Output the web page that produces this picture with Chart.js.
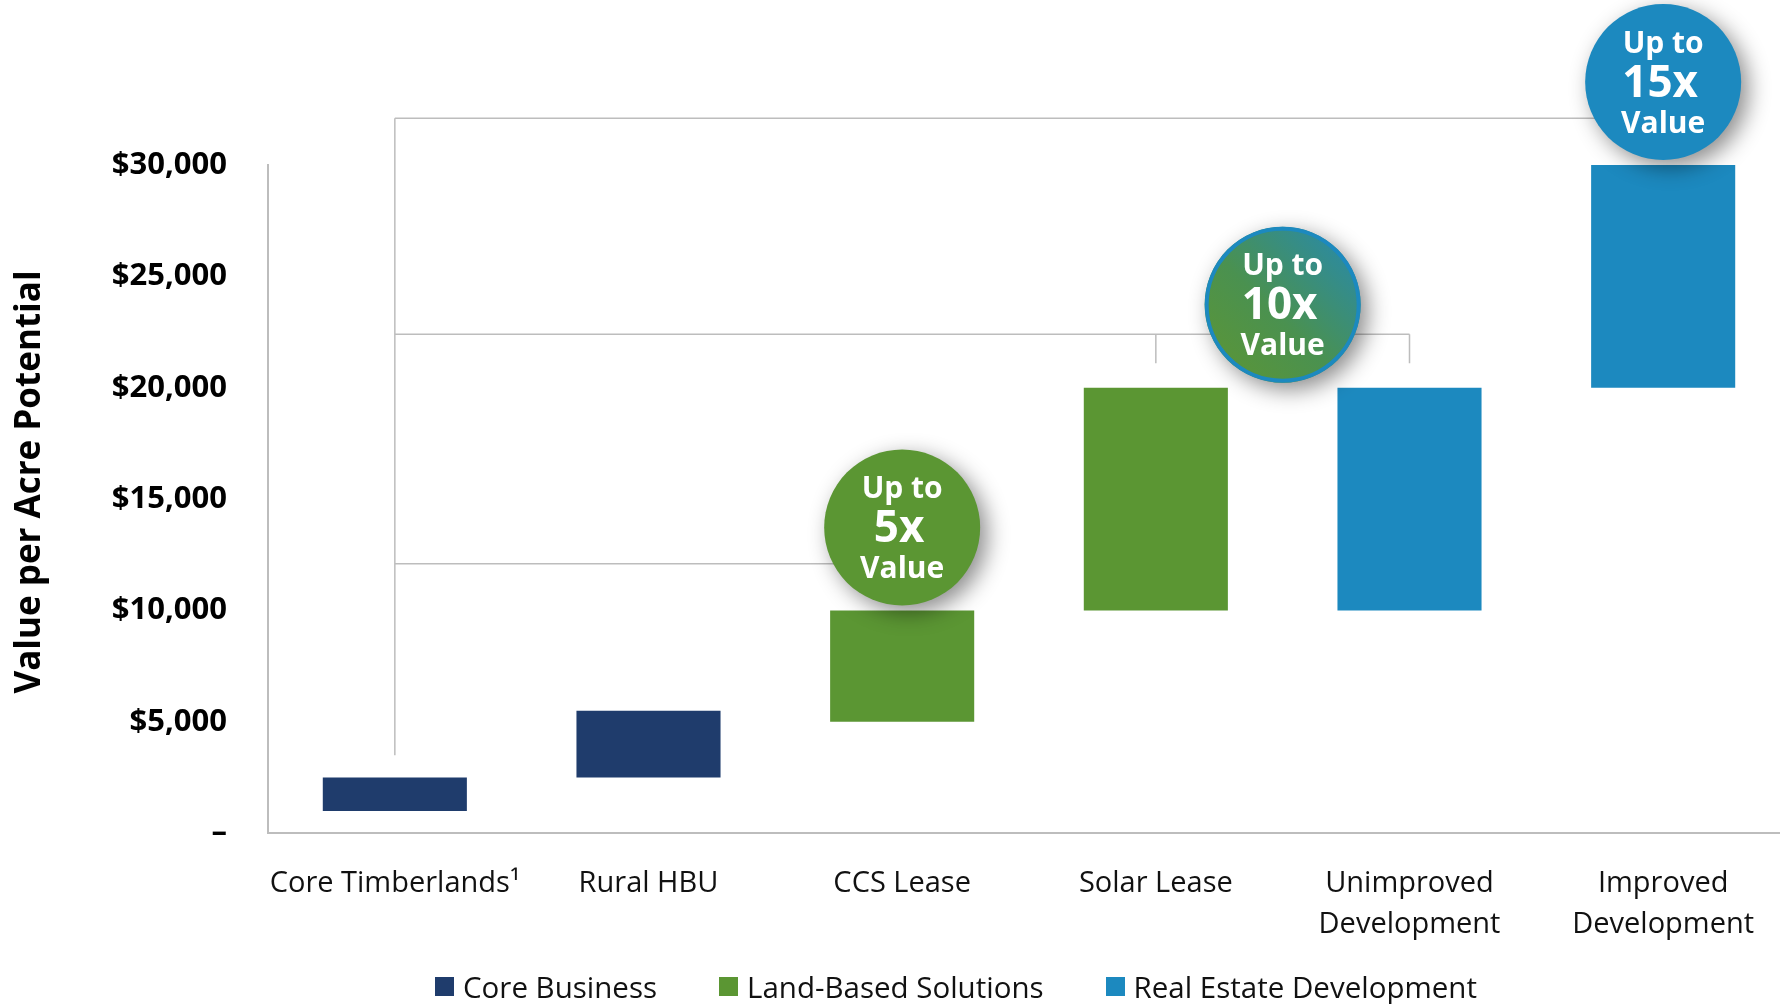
<!DOCTYPE html>
<html>
<head>
<meta charset="utf-8">
<script src="https://cdn.jsdelivr.net/npm/chart.js@4.4.1/dist/chart.umd.min.js"></script>
<style>
  html, body { margin: 0; padding: 0; background: #ffffff; overflow: hidden; }
  #wrap { position: relative; width: 1790px; height: 1004px; }
  #legend {
    position: absolute; left: 435px; top: 966px;
    display: flex; gap: 62px;
    font-family: 'Open Sans', sans-serif; font-size: 29.5px; color: #111;
  }
  #legend .item { display: flex; align-items: center; }
  #legend .box { width: 19px; height: 19px; margin-right: 9px; }
</style>
</head>
<body>
<div id="wrap">
  <canvas id="valueChart"></canvas>
  <div id="legend"></div>
</div>
<script>
// categories and floating bar ranges [from, to] per acre
const categories = ['Core Timberlands\u00B9', 'Rural HBU', 'CCS Lease', 'Solar Lease', ['Unimproved', 'Development'], ['Improved', 'Development']];
const coreBusiness = [[1000, 2500], [2500, 5500], null, null, null, null];
const landBased = [null, null, [5000, 10000], [10000, 20000], null, null];
const realEstate = [null, null, null, null, [10000, 20000], [20000, 30000]];
const seriesNames = ['Core Business', 'Land-Based Solutions', 'Real Estate Development'];

// "Up to Nx Value" badges: text, category position, value they sit on
const badgeLabels = ['5x', '10x', '15x'];
const badgeCategory = [2, 3.5, 5];
const badgeBase = [10000, 20000, 30000];

// grey connector lines from Core Timberlands out to each badge
const bracketLevels = [12100, 22400, 32100];
const bracketEnds = [2, 4, 5];
const bracketStart = 3500;

const NAVY = '#1f3c6c';
const GREEN = '#5b9633';
const BLUE = '#1c89bf';
const seriesColors = [NAVY, GREEN, BLUE];

// html legend
const legendEl = document.getElementById('legend');
seriesNames.forEach((name, i) => {
    const item = document.createElement('div');
    item.className = 'item';
    item.innerHTML = '<span class="box" style="background:' + seriesColors[i] + '"></span>' + name;
    legendEl.appendChild(item);
});

const annotations = {
    id: 'annotations',
    beforeDatasetsDraw(chart) {
        const { ctx, scales: { x, y } } = chart;
        const x0 = x.getPixelForValue(0);
        ctx.save();
        ctx.strokeStyle = '#bdbdbd';
        ctx.lineWidth = 1.5;
        ctx.beginPath();
        // vertical spine
        ctx.moveTo(x0, y.getPixelForValue(bracketStart));
        ctx.lineTo(x0, y.getPixelForValue(bracketLevels[2]));
        bracketLevels.forEach((lvl, i) => {
            const py = y.getPixelForValue(lvl);
            ctx.moveTo(x0, py);
            ctx.lineTo(x.getPixelForValue(bracketEnds[i]), py);
        });
        // little bracket ticks under the 10x badge
        const py = y.getPixelForValue(bracketLevels[1]);
        const pyLow = y.getPixelForValue(bracketLevels[1] - 1300);
        [3, 4].forEach(c => {
            const px = x.getPixelForValue(c);
            ctx.moveTo(px, py);
            ctx.lineTo(px, pyLow);
        });
        ctx.stroke();
        ctx.restore();
    },
    afterDatasetsDraw(chart) {
        const { ctx, scales: { x, y } } = chart;
        const r = 78;
        badgeLabels.forEach((lbl, i) => {
            const cx = x.getPixelForValue(badgeCategory[i]);
            const cy = y.getPixelForValue(badgeBase[i]) - r - 5;
            let fill = i === 0 ? GREEN : BLUE;
            if (i === 1) {
                fill = ctx.createLinearGradient(cx - r, cy + r, cx + r, cy - r);
                fill.addColorStop(0, '#5e9632');
                fill.addColorStop(0.45, '#4a9150');
                fill.addColorStop(1, '#2489b6');
            }
            ctx.save();
            ctx.shadowColor = 'rgba(0, 0, 0, 0.45)';
            ctx.shadowBlur = 22;
            ctx.shadowOffsetX = 7;
            ctx.shadowOffsetY = 7;
            ctx.beginPath();
            ctx.arc(cx, cy, r, 0, Math.PI * 2);
            ctx.fillStyle = fill;
            ctx.fill();
            ctx.restore();
            if (i === 1) {
                ctx.save();
                ctx.beginPath();
                ctx.arc(cx, cy, r - 2, 0, Math.PI * 2);
                ctx.strokeStyle = BLUE;
                ctx.lineWidth = 4;
                ctx.stroke();
                ctx.restore();
            }
            ctx.save();
            ctx.fillStyle = '#ffffff';
            ctx.textAlign = 'center';
            ctx.textBaseline = 'middle';
            ctx.font = "bold 30px 'Open Sans'";
            ctx.fillText('Up to', cx, cy - 38);
            ctx.font = "bold 44px 'Open Sans'";
            ctx.fillText(lbl, cx - 3, cy + 2);
            ctx.font = "bold 30px 'Open Sans'";
            ctx.fillText('Value', cx, cy + 42);
            ctx.restore();
        });

        // y axis title
        ctx.save();
        ctx.translate(30, 482);
        ctx.rotate(-Math.PI / 2);
        ctx.fillStyle = '#000000';
        ctx.textAlign = 'center';
        ctx.textBaseline = 'middle';
        ctx.font = "bold 35px 'Open Sans'";
        ctx.fillText('Value per Acre Potential', 0, 0);
        ctx.restore();
    }
};

Chart.defaults.font.family = "'Open Sans', sans-serif";
Chart.defaults.color = '#000000';

new Chart(document.getElementById('valueChart'), {
    type: 'bar',
    data: {
        labels: categories,
        datasets: [
            { label: seriesNames[0], data: coreBusiness, backgroundColor: NAVY },
            { label: seriesNames[1], data: landBased, backgroundColor: GREEN },
            { label: seriesNames[2], data: realEstate, backgroundColor: BLUE }
        ]
    },
    options: {
        responsive: true,
        maintainAspectRatio: false,
        animation: false,
        grouped: false,
        barPercentage: 0.568,
        categoryPercentage: 1,
        layout: {
            padding: { top: 165, right: 0, bottom: 29, left: 0 }
        },
        plugins: {
            legend: { display: false },
            tooltip: { enabled: false }
        },
        scales: {
            x: {
                grid: { display: false, drawTicks: false },
                border: { color: '#bdbdbd', width: 2 },
                ticks: {
                    padding: 30,
                    maxRotation: 0,
                    autoSkip: false,
                    color: '#111111',
                    font: { size: 29, lineHeight: 1.41 }
                }
            },
            y: {
                min: 0,
                max: 30000,
                afterFit: (scale) => { scale.width = 268; },
                grid: { display: false, drawTicks: false },
                border: { color: '#bdbdbd', width: 2 },
                ticks: {
                    stepSize: 5000,
                    padding: 41,
                    font: { size: 31, weight: 'bold' },
                    callback: function (value) {
                        return value === 0 ? '\u2013' : '$' + value.toLocaleString('en-US');
                    }
                }
            }
        }
    },
    plugins: [annotations]
});
</script>
</body>
</html>
